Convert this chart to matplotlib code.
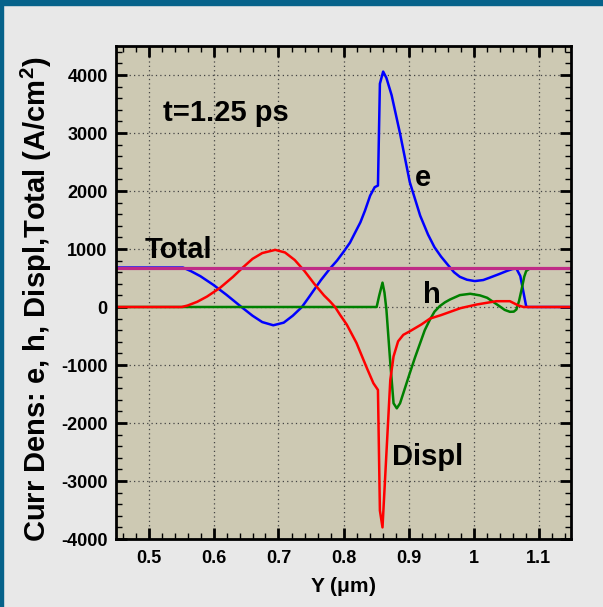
import matplotlib
matplotlib.use("Agg")
import matplotlib.pyplot as plt
from matplotlib.patches import Rectangle
from matplotlib.ticker import MultipleLocator

plt.rcParams["axes.unicode_minus"] = False

# e current (blue)
e_y = [0.45, 0.553, 0.565, 0.58, 0.60, 0.62, 0.643, 0.66, 0.675, 0.692, 0.708, 0.722,
       0.736, 0.745, 0.755, 0.765, 0.779, 0.79, 0.80, 0.81, 0.818, 0.826, 0.833, 0.841,
       0.848, 0.853, 0.856, 0.861, 0.866, 0.874, 0.887, 0.902, 0.918, 0.93, 0.94,
       0.95, 0.961, 0.97, 0.979, 0.99, 1.002, 1.015, 1.025, 1.04, 1.051, 1.06, 1.066,
       1.072, 1.077, 1.081, 1.083, 1.15]
e_j = [680, 680, 620, 530, 380, 210, 0, -150, -260, -315, -270, -150,
       0, 140, 300, 460, 660, 800, 950, 1110, 1286, 1460, 1660, 1920,
       2066, 2094, 3850, 4059, 3950, 3653, 2990, 2152, 1574, 1250, 1030,
       870, 720, 600, 520, 470, 447, 465, 506, 570, 620, 655, 662,
       534, 246, 14, 0, 0]

# h current (green)
h_y = [0.45, 0.851, 0.855, 0.860, 0.863, 0.866, 0.872, 0.877, 0.882, 0.887, 0.892,
       0.902, 0.91, 0.918, 0.925, 0.933, 0.94, 0.948, 0.956, 0.964, 0.979, 0.995,
       1.01, 1.021, 1.03, 1.04, 1.048, 1.056, 1.062, 1.066, 1.07, 1.074, 1.078, 1.081,
       1.086, 1.15]
h_j = [0, 0, 200, 420, 250, -43, -967, -1660, -1747, -1660, -1487,
       -1140, -870, -620, -400, -217, -80, 14, 80, 130, 205, 228,
       200, 159, 90, 14, -50, -83, -80, -43, 100, 303, 520, 620,
       660, 665]

# displacement current (red)
d_y = [0.45, 0.551, 0.56, 0.575, 0.59, 0.61, 0.63, 0.645, 0.66, 0.675, 0.695, 0.71,
       0.725, 0.74, 0.755, 0.77, 0.779, 0.787, 0.795, 0.805, 0.82, 0.836, 0.846,
       0.853, 0.856, 0.860, 0.866, 0.872, 0.877, 0.884, 0.892, 0.902, 0.92, 0.933,
       0.95, 0.965, 0.98, 1.005, 1.035, 1.056, 1.069, 1.077, 1.15]
d_j = [0, 0, 25, 90, 180, 330, 520, 680, 830, 930, 985, 940,
       810, 620, 400, 200, 100, 0, -140, -303, -620, -1054, -1314,
       -1430, -3510, -3800, -2530, -1256, -852, -592, -480, -419, -300, -200,
       -140, -80, -20, 43, 100, 100, 26, 0, 0]

# total current (magenta)
t_y = [0.45, 1.15]
t_j = [680, 680]

fig = plt.figure(figsize=(6.03, 6.07), dpi=100, facecolor="#E8E8E8")
fig.patches.append(Rectangle((0, 1 - 5 / 607), 1, 5 / 607, transform=fig.transFigure,
                             color="#06628A", zorder=0))
fig.patches.append(Rectangle((0, 0), 3 / 603, 1, transform=fig.transFigure,
                             color="#06628A", zorder=0))

ax = fig.add_axes([116 / 603, 1 - 539 / 607, 455 / 603, 493 / 607])
ax.set_facecolor("#CDC9B3")

ax.plot(e_y, e_j, color="#0000FF", lw=1.8)
ax.plot(h_y, h_j, color="#008000", lw=1.8)
ax.plot(d_y, d_j, color="#FF0000", lw=1.8)
ax.plot(t_y, t_j, color="#BF2B86", lw=2.3)

ax.set_xlim(0.45, 1.15)
ax.set_ylim(-4000, 4500)
ax.xaxis.set_minor_locator(MultipleLocator(0.02))
ax.yaxis.set_minor_locator(MultipleLocator(200))
ax.set_xticks([0.5, 0.6, 0.7, 0.8, 0.9, 1.0, 1.1])
ax.set_xticklabels(["0.5", "0.6", "0.7", "0.8", "0.9", "1", "1.1"])
ax.set_yticks([-4000, -3000, -2000, -1000, 0, 1000, 2000, 3000, 4000])

ax.grid(True, which="major", color="#444444", linestyle=(0, (1, 2.5)), lw=0.9)
ax.tick_params(which="both", direction="in", top=True, right=True, color="black")
ax.tick_params(which="major", length=8, width=2)
ax.tick_params(which="minor", length=4.5, width=1)
ax.tick_params(axis="x", pad=8)
ax.tick_params(axis="y", pad=6)
for lab in ax.get_xticklabels() + ax.get_yticklabels():
    lab.set_fontfamily("Liberation Sans")
    lab.set_fontweight("bold")
    lab.set_fontsize(13)
for sp in ax.spines.values():
    sp.set_linewidth(2)

font = dict(family="Liberation Sans", weight="bold")
ax.text(0.522, 3203, "t=1.25 ps", fontsize=21, **font)
ax.text(0.4946, 853, "Total", fontsize=21, **font)
ax.text(0.910, 2088, "e", fontsize=21, **font)
ax.text(0.923, 73, "h", fontsize=21, **font)
ax.text(0.874, -2730, "Displ", fontsize=21, **font)

ax.set_xlabel("Y ($\\mathregular{\\mu}$m)", fontsize=15, labelpad=6, **font)
fig.text(36 / 603, 1 - 299.5 / 607, "Curr Dens: e, h, Displ,Total (A/cm$^\\mathregular{2}$)",
         rotation=90, ha="center", va="center", fontsize=21, **font)

fig.savefig("out.png", dpi=100, facecolor=fig.get_facecolor())
